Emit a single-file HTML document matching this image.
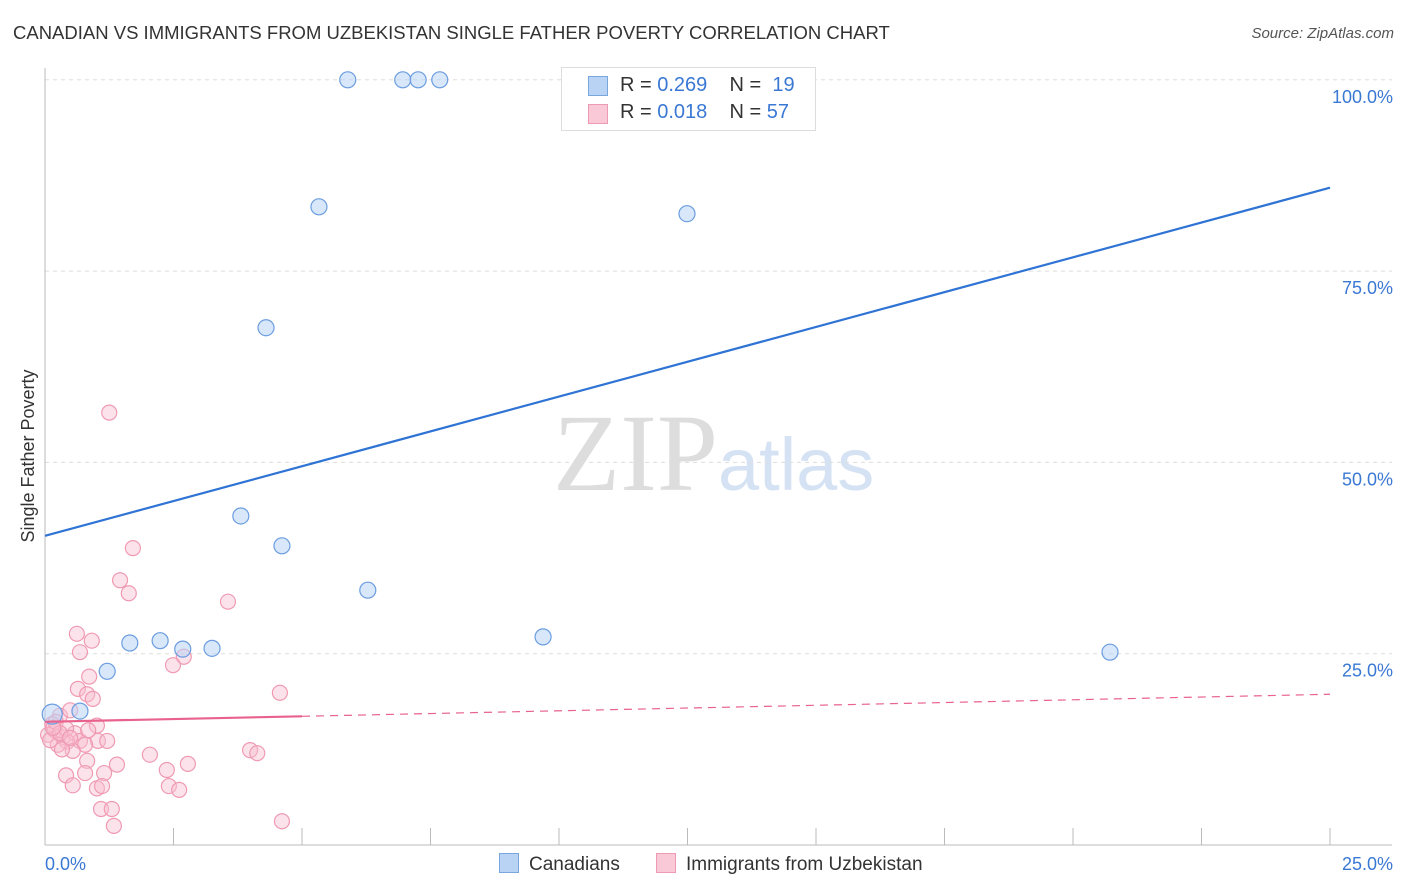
<!DOCTYPE html>
<html><head><meta charset="utf-8">
<style>
body{margin:0;background:#fff;font-family:"Liberation Sans",sans-serif;}
#wrap{position:relative;width:1406px;height:892px;overflow:hidden;}
.t{position:absolute;white-space:nowrap;}
</style></head>
<body>
<div id="wrap">
<div class="t" style="left:13px;top:22px;font-size:18.5px;color:#333;">CANADIAN VS IMMIGRANTS FROM UZBEKISTAN SINGLE FATHER POVERTY CORRELATION CHART</div>
<div class="t" style="right:12px;top:25px;font-size:15px;color:#555;font-style:italic;">Source: ZipAtlas.com</div>
<svg id="svg" width="1406" height="892" style="position:absolute;left:0;top:0">
<text x="553" y="490" font-family="Liberation Serif" font-size="110" fill="#ddd">ZIP</text>
<text x="718" y="490" font-family="Liberation Sans" font-size="74" fill="#d4e2f4">atlas</text>
<g id="grid"></g><g id="marks"></g>
<text x="34" y="456" transform="rotate(-90 34 456)" text-anchor="middle" font-size="18" fill="#333">Single Father Poverty</text>
</svg>
<div style="position:absolute;left:561px;top:67px;width:253px;height:62px;border:1px solid #ddd;background:#fff;font-size:20px;color:#333;">
 <div style="position:absolute;left:26px;top:8px;width:18px;height:18px;background:#b8d3f4;border:1px solid #7aa6e0;"></div>
 <div class="t" style="left:58px;top:6px;">R = <span style="color:#3a78d4">0.269</span>&nbsp;&nbsp;&nbsp; N = &nbsp;<span style="color:#3a78d4">19</span></div>
 <div style="position:absolute;left:26px;top:36px;width:18px;height:18px;background:#f9c9d7;border:1px solid #ef9ab3;"></div>
 <div class="t" style="left:58px;top:33px;">R = <span style="color:#3a78d4">0.018</span>&nbsp;&nbsp;&nbsp; N = <span style="color:#3a78d4">57</span></div>
</div>
<div style="position:absolute;left:499px;top:853px;font-size:19px;color:#333;">
 <span style="display:inline-block;width:18px;height:18px;background:#b8d3f4;border:1px solid #7aa6e0;vertical-align:-3px;margin-right:10px;"></span>Canadians</div>
<div style="position:absolute;left:656px;top:853px;font-size:19px;color:#333;">
 <span style="display:inline-block;width:18px;height:18px;background:#f9c9d7;border:1px solid #ef9ab3;vertical-align:-3px;margin-right:10px;"></span>Immigrants from Uzbekistan</div>
</div>
<script>
const yTicks=[25,50,75,100];
const yTickLabels=["25.0%","50.0%","75.0%","100.0%"];
const xTickLabels=["0.0%","25.0%"];
const canX=[5.89,6.96,7.26,7.68,5.33,12.49,4.30,3.81,4.61,6.28,9.69,20.72,1.65,2.24,2.68,3.25,1.21,0.68,0.14];
const canY=[100,100,100,100,83.4,82.5,67.6,43.0,39.1,33.3,27.2,25.2,26.4,26.7,25.6,25.7,22.7,17.5,17.1];
const uzX=[1.25,1.71,1.46,1.63,3.56,0.62,0.91,0.68,2.70,2.49,0.86,0.64,0.82,0.93,4.57,0.29,0.49,1.01,0.14,0.19,0.06,0.35,0.58,0.68,0.43,0.25,1.03,1.21,0.78,0.54,0.33,3.99,4.13,2.04,0.82,2.78,1.40,2.37,0.78,1.15,0.41,0.54,1.01,1.11,2.41,2.61,1.09,1.30,1.34,4.61,0.10,0.21,0.41,0.84,0.29,0.49,0.16];
const uzY=[56.5,38.8,34.6,32.9,31.8,27.6,26.7,25.2,24.6,23.5,22.0,20.4,19.7,19.1,19.9,16.9,17.6,15.6,15.8,15.0,14.4,14.1,14.6,13.6,13.5,13.1,13.6,13.6,13.1,12.3,12.5,12.4,12.0,11.8,11.0,10.6,10.5,9.8,9.4,9.4,9.1,7.8,7.4,7.7,7.7,7.2,4.7,4.7,2.5,3.1,13.7,16.1,15.2,15.0,14.6,14.0,15.3];
const canLine=[40.4,85.9];
const uzLine=[16.1,19.7];
const NS="http://www.w3.org/2000/svg";
const X=v=>45+v/25*1285, Y=v=>845-v/25*191.3;
function mk(tag,attrs,parent){const e=document.createElementNS(NS,tag);for(const k in attrs)e.setAttribute(k,attrs[k]);parent.appendChild(e);return e;}
const g=document.getElementById('grid'), m=document.getElementById('marks');
yTicks.forEach((t,i)=>{
 const l=mk('line',{x1:45,x2:1392,y1:Y(t),y2:Y(t),stroke:'#ddd','stroke-dasharray':'4 4'},g);
 
 
 const tx=mk('text',{x:1393,y:Y(t)+23,'text-anchor':'end','font-size':18,fill:'#3a78d4'},g);
 tx.textContent=yTickLabels[i];
 
 
});
const ax=mk('line',{x1:45,x2:45,y1:68,y2:845,stroke:'#bbb'},g);


const bx=mk('line',{x1:45,x2:1392,y1:845,y2:845,stroke:'#bbb'},g);


for(let i=0;i<=10;i++){
 const tk=mk('line',{x1:X(i*2.5),x2:X(i*2.5),y1:828,y2:845,stroke:'#bbb'},g);
 
 
}
[[0,'start',45],[25,'end',1393]].forEach((a,i)=>{
 const tx=mk('text',{x:a[2],y:870,'text-anchor':a[1],'font-size':18,fill:'#3a78d4'},g);
 tx.textContent=xTickLabels[i];
 
 
});
uzX.forEach((x,i)=>{
 const c=mk('circle',{cx:X(x),cy:Y(uzY[i]),r:7.5,fill:'rgba(248,190,208,0.45)',stroke:'#ef9ab3','stroke-width':1.2},m);
 
 
});
canX.forEach((x,i)=>{
 const c=mk('circle',{cx:X(x),cy:Y(canY[i]),r:i==18?10:8,fill:'rgba(184,211,244,0.55)',stroke:'#6b9de0','stroke-width':1.2},m);
 
 
});
const bl=mk('line',{x1:X(0),y1:Y(canLine[0]),x2:X(25),y2:Y(canLine[1]),stroke:'#2f74d4','stroke-width':2.2},m);


const xs=5, ys=uzLine[0]+(uzLine[1]-uzLine[0])*xs/25;
const pl=mk('line',{x1:X(0),y1:Y(uzLine[0]),x2:X(xs),y2:Y(ys),stroke:'#e8628d','stroke-width':2.2},m);


const pd=mk('line',{x1:X(xs),y1:Y(ys),x2:X(25),y2:Y(uzLine[1]),stroke:'#e8628d','stroke-width':1.2,'stroke-dasharray':'8 6'},m);


</script>
</body></html>
